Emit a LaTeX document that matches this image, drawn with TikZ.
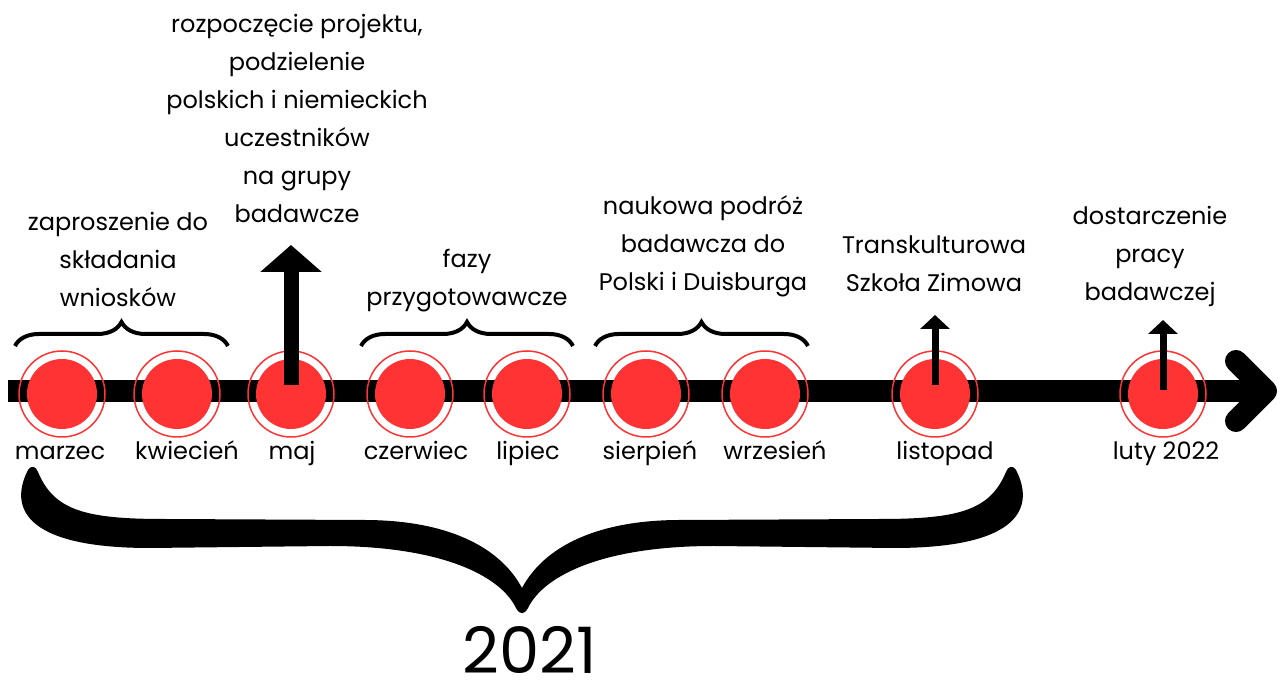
\documentclass[tikz,border=0pt]{standalone}
\usepackage{fontspec}
\setmainfont{Poppins}
\usetikzlibrary{positioning,arrows.meta,decorations.pathreplacing}
\definecolor{dotred}{RGB}{255,51,51}

\begin{document}
\begin{tikzpicture}[x=1pt,y=1pt,on grid,
    month/.style={circle,draw=dotred,line width=1.5pt,
      minimum size=86pt,inner sep=0pt,
      path picture={\fill[dotred] (path picture bounding box.center) circle (35pt);}},
    monthname/.style={font=\fontsize{24}{38}\selectfont,inner sep=0pt},
    note/.style={font=\fontsize{24}{38}\selectfont,align=center,inner sep=0pt},
    bracket/.style={decorate,decoration={brace,amplitude=24pt},line width=4pt},
    bigup/.style={line width=15pt,-{Triangle[width=60pt,length=27pt]}},
    smallup/.style={line width=7pt,-{Triangle[width=29pt,length=14pt]}}]
    \useasboundingbox (0,0) rectangle (1286,682);

    % time axis
    \draw[line width=22pt] (8,291) -- (1262,291);
    \draw[line width=22pt,line cap=round,line join=round] (1236,321) -- (1266,291) -- (1236,261);

    \node[month] (m_0) at (62,288) {};
    \node[month] (m_1) [right=115pt of m_0] {};
    \node[month] (m_2) [right=114pt of m_1] {};
    \node[month] (m_3) [right=119pt of m_2] {};
    \node[month] (m_4) [right=117pt of m_3] {};
    \node[month] (m_5) [right=119pt of m_4] {};
    \node[month] (m_6) [right=119pt of m_5] {};
    \node[month] (m_7) [right=170pt of m_6] {};
    \node[month] (m_8) [right=228pt of m_7] {};

    \node[monthname,below=66pt of m_0,anchor=base,xshift=-2pt] (l_0) {marzec};
    \node[monthname,below=66pt of m_1,anchor=base,xshift=10pt] (l_1) {kwiecień};
    \node[monthname,below=66pt of m_2,anchor=base,xshift=1pt] (l_2) {maj};
    \node[monthname,below=66pt of m_3,anchor=base,xshift=6pt] (l_3) {czerwiec};
    \node[monthname,below=66pt of m_4,anchor=base,xshift=1pt] (l_4) {lipiec};
    \node[monthname,below=66pt of m_5,anchor=base,xshift=4pt] (l_5) {sierpień};
    \node[monthname,below=66pt of m_6,anchor=base,xshift=10pt] (l_6) {wrzesień};
    \node[monthname,below=66pt of m_7,anchor=base,xshift=10pt] (l_7) {listopad};
    \node[monthname,below=66pt of m_8,anchor=base,xshift=3pt] (l_8) {luty 2022};

    % arrows up
    \coordinate [above=149pt of m_2] (a_2);
    \coordinate [above=79pt of m_7] (a_7);
    \coordinate [above=74pt of m_8] (a_8);
    \draw[bigup] ([yshift=9pt]m_2.center) -- (a_2);
    \draw[smallup] ([yshift=9pt]m_7.center) -- (a_7);
    \draw[smallup] ([yshift=4pt]m_8.center) -- (a_8);

    % braces over the months
    \coordinate (b_0) at (15,336);  \coordinate (c_0) at (228,336);
    \coordinate (b_1) at (361,336); \coordinate (c_1) at (573,336);
    \coordinate (b_2) at (595,336); \coordinate (c_2) at (808,336);
    \draw[bracket] (b_0) -- (c_0);
    \draw[bracket] (b_1) -- (c_1);
    \draw[bracket] (b_2) -- (c_2);

    \node[note,anchor=south] (t_0) at (118,375) {zaproszenie do\\składania\\wniosków};
    \node[note,anchor=south] (t_1) at (297,459) {rozpoczęcie projektu,\\podzielenie\\polskich i niemieckich\\uczestników\\na grupy\\badawcze};
    \node[note,anchor=south] (t_2) at (467,370) {fazy\\przygotowawcze};
    \node[note,anchor=south] (t_3) at (703,385) {naukowa podróż\\badawcza do\\Polski i Duisburga};
    \node[note,anchor=south] (t_4) at (934,390) {Transkulturowa\\Szkoła Zimowa};
    \node[note,anchor=south] (t_5) at (1150,375) {dostarczenie\\pracy\\badawczej};

    % big brace for the year
    \fill (28,212) .. controls (10,177) and (20,134) .. (150,134)
        -- (330,136) .. controls (440,136) and (500,107) .. (516,74)
        .. controls (520,67) and (524,67) .. (528,74)
        .. controls (544,107) and (604,136) .. (714,136)
        -- (894,134) .. controls (1024,134) and (1034,177) .. (1016,212)
        .. controls (1013,217) and (1008,216) .. (1006,210)
        .. controls (990,172) and (960,163) .. (880,163)
        -- (680,162) .. controls (600,162) and (545,137) .. (522,94)
        .. controls (499,137) and (444,162) .. (364,162)
        -- (164,163) .. controls (84,163) and (54,172) .. (38,210)
        .. controls (36,216) and (31,217) .. (28,212) -- cycle;
    \node[font=\fontsize{64}{70}\selectfont,anchor=base,inner sep=0pt] (year) at (530,8) {2021};
\end{tikzpicture}
\end{document}
